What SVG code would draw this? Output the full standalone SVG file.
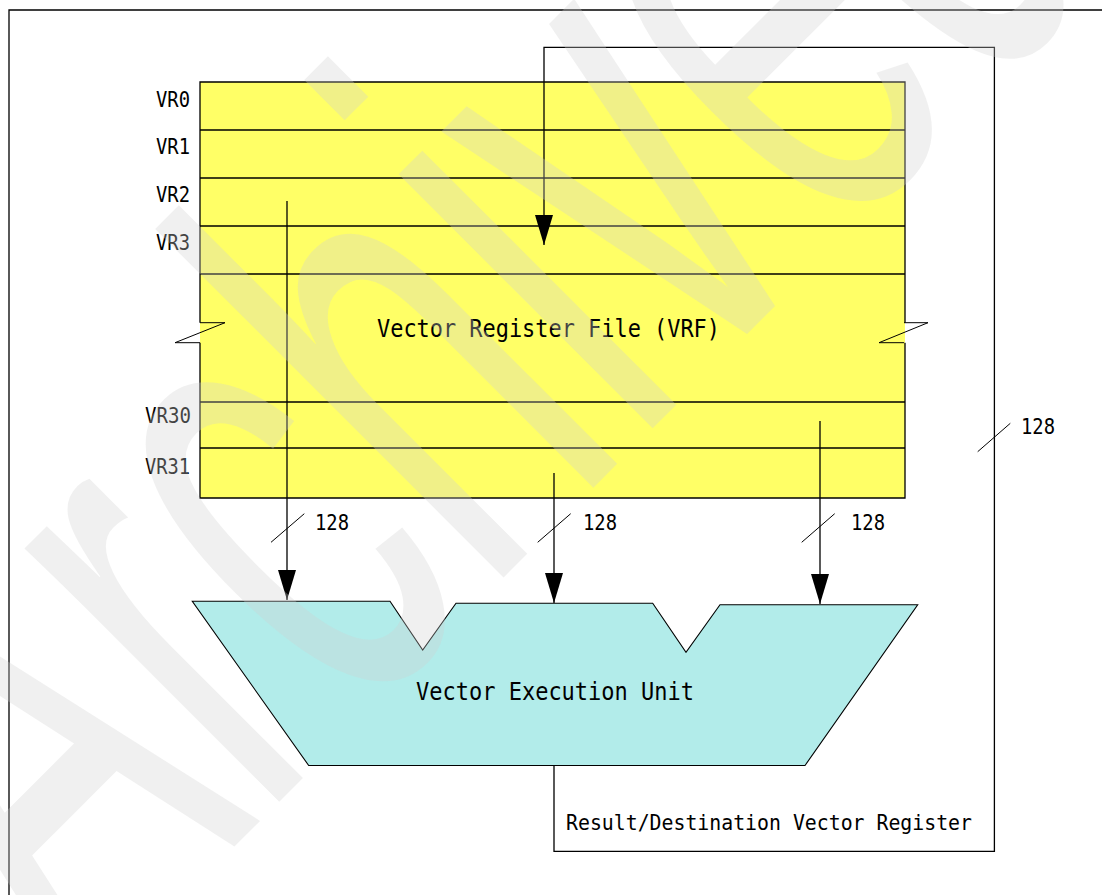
<svg xmlns="http://www.w3.org/2000/svg" width="1102" height="895" viewBox="0 0 1102 895">
<defs>
<style>
.ln{stroke:#000;stroke-width:1.3;fill:none}
.sl{stroke:#000;stroke-width:1;fill:none}
.t{font-family:"DejaVu Sans Mono","Liberation Mono",monospace;fill:#000}
.lbl{font-size:22px}
.big{font-size:24px}
.wm{font-family:"Liberation Sans","Arial",sans-serif;font-size:680px;fill:#d0d0d0;fill-opacity:0.32}
</style>
<marker id="ah" viewBox="0 0 30 18" refX="30" refY="9" markerWidth="30" markerHeight="18" markerUnits="userSpaceOnUse" orient="auto">
<path d="M0,0 L30,9 L0,18 Z" fill="#000"/>
</marker>
</defs>
<rect width="1102" height="895" fill="#fff"/>
<g id="frame">
<path class="ln" d="M9,895 V10 H1102"/>
</g>
<g id="vrf">
<rect x="200" y="82" width="705" height="416" fill="#ffff66"/>
<path class="ln" d="M200,322.7 V82 H905 V322.7 M905,342.7 V498 H200 V342.7"/>
<path class="ln" d="M200,130 H905 M200,178 H905 M200,226 H905 M200,274 H905 M200,402 H905 M200,448 H905"/>
<rect x="175" y="323.3" width="25" height="19" fill="#fff"/>
<rect x="905" y="323.3" width="25" height="19" fill="#fff"/>
<path class="sl" d="M200,322.7 H225 L175,342.7 H200"/>
<path class="sl" d="M904,322.7 H928 L879,342.7 H904"/>
<text class="t big" x="377" y="337" textLength="343" lengthAdjust="spacingAndGlyphs">Vector Register File (VRF)</text>
<g class="t lbl">
<text x="156" y="107" textLength="34" lengthAdjust="spacingAndGlyphs">VR0</text>
<text x="156" y="154" textLength="34" lengthAdjust="spacingAndGlyphs">VR1</text>
<text x="156" y="202" textLength="34" lengthAdjust="spacingAndGlyphs">VR2</text>
<text x="156" y="250" textLength="34" lengthAdjust="spacingAndGlyphs">VR3</text>
<text x="145" y="423" textLength="46" lengthAdjust="spacingAndGlyphs">VR30</text>
<text x="145" y="474" textLength="45" lengthAdjust="spacingAndGlyphs">VR31</text>
</g>
</g>
<g id="veu">
<path d="M192.3,601.3 H390 L422.7,650 L456,603.3 H652.7 L686,652.3 L720,604.7 H917.7 L805,765.5 H308.7 Z" fill="#b2ecea" stroke="#000" stroke-width="1.1"/>
<text class="t big" x="416" y="700" textLength="278" lengthAdjust="spacingAndGlyphs">Vector Execution Unit</text>
</g>
<g id="connectors">
<path class="ln" d="M287,201 V600" marker-end="url(#ah)"/>
<path class="ln" d="M554,473 V603" marker-end="url(#ah)"/>
<path class="ln" d="M820,421 V604" marker-end="url(#ah)"/>
<path class="ln" d="M554,766 V851.3 H994.4 V47.3 H544 V245" marker-end="url(#ah)"/>
<path class="sl" d="M271,542.3 L304.3,513.7 M537.7,542.3 L570.7,513.7 M801.7,542.3 L834.7,513.7 M977.7,451.7 L1010.3,423.3"/>
<g class="t lbl">
<text x="315" y="530" textLength="34" lengthAdjust="spacingAndGlyphs">128</text>
<text x="583" y="530" textLength="34" lengthAdjust="spacingAndGlyphs">128</text>
<text x="851" y="530" textLength="34" lengthAdjust="spacingAndGlyphs">128</text>
<text x="1021" y="434" textLength="34" lengthAdjust="spacingAndGlyphs">128</text>
<text x="566" y="830" textLength="406" lengthAdjust="spacingAndGlyphs">Result/Destination Vector Register</text>
</g>
</g>
<g id="watermark">
<text class="wm" x="0" y="0" transform="translate(81 1000) rotate(-45) scale(0.56 1)">Archived</text>
</g>
</svg>
